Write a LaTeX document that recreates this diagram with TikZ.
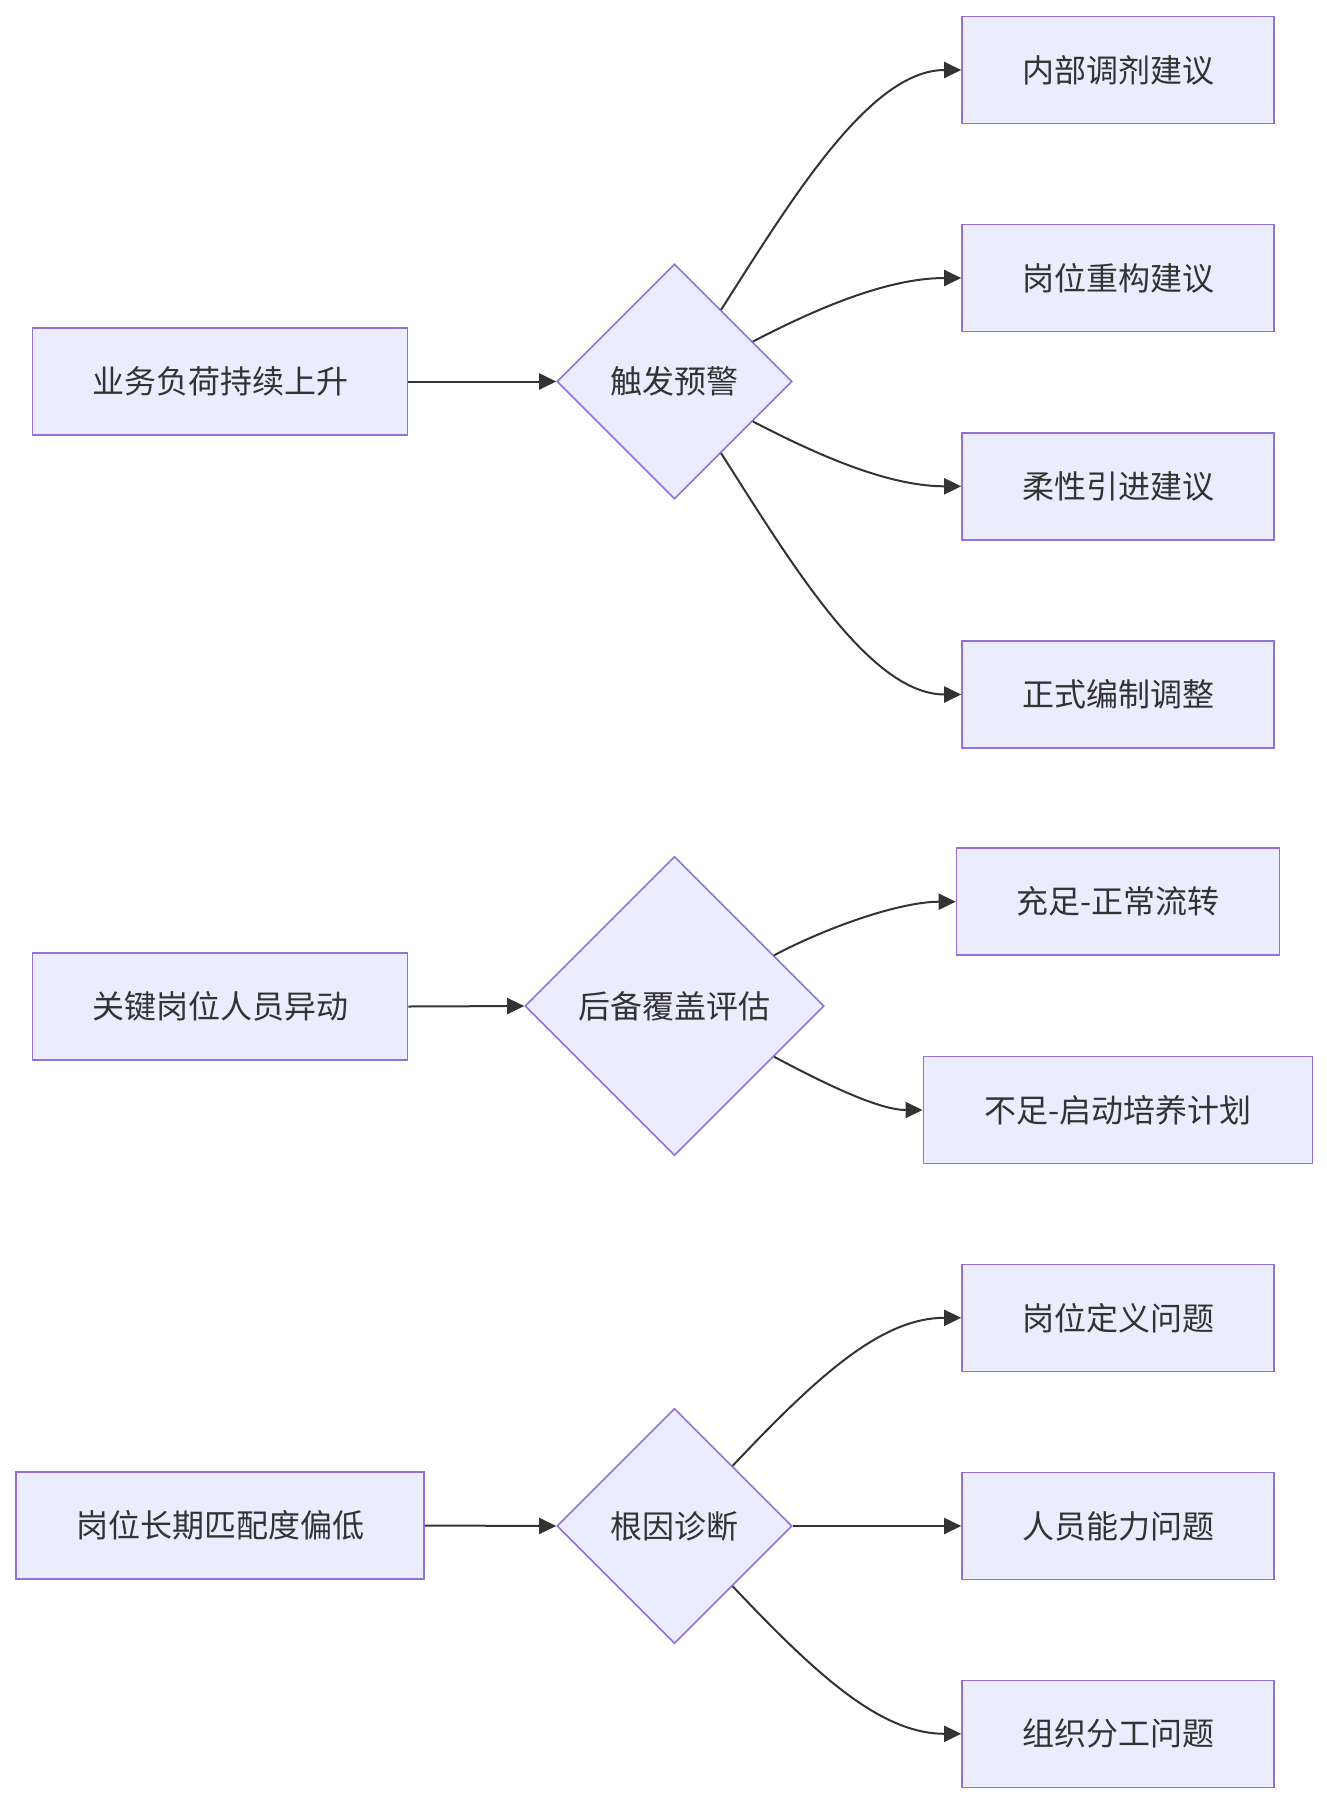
\documentclass[tikz,border=0pt]{standalone}
\usepackage{fontspec}
\setmainfont{Noto Sans CJK SC}
\usetikzlibrary{shapes.geometric,arrows.meta}
\definecolor{boxfill}{HTML}{ECECFF}
\definecolor{boxline}{HTML}{9370DB}
\definecolor{ink}{HTML}{333333}
\tikzset{
  base/.style={draw=boxline, fill=boxfill, line width=1.6pt, text=ink,
    font=\fontsize{32}{38}\selectfont, inner sep=0pt},
  box/.style={base, rectangle, minimum height=107pt, minimum width=#1},
  box/.default=312pt,
  dia/.style={base, diamond, minimum width=#1, minimum height=#1, aspect=1},
  conn/.style={draw=ink, line width=2pt, -{Triangle[length=17pt,width=16pt]}}
}
\begin{document}
\begin{tikzpicture}[x=1pt,y=-1pt]
\useasboundingbox (0,0) rectangle (1327,1804);
% group 1
\node[box=375pt] (a) at (220,381.5) {业务负荷持续上升};
\node[dia=235pt] (d1) at (674.5,381.5) {触发预警};
\node[box] (r1) at (1118,70) {内部调剂建议};
\node[box] (r2) at (1118,278) {岗位重构建议};
\node[box] (r3) at (1118,486.3) {柔性引进建议};
\node[box] (r4) at (1118,694.5) {正式编制调整};
% group 2
\node[box=375pt] (b) at (220,1006.5) {关键岗位人员异动};
\node[dia=299pt] (d2) at (674.5,1006) {后备覆盖评估};
\node[box=323pt] (s1) at (1118,901.7) {充足-正常流转};
\node[box=389pt] (s2) at (1117.8,1110) {不足-启动培养计划};
% group 3
\node[box=408pt] (c) at (220,1525.5) {岗位长期匹配度偏低};
\node[dia=235pt] (d3) at (674.5,1526) {根因诊断};
\node[box] (t1) at (1118,1317.8) {岗位定义问题};
\node[box] (t2) at (1118,1526) {人员能力问题};
\node[box] (t3) at (1118,1733.8) {组织分工问题};
% connectors
\draw[conn] (a.east) -- (d1.west);
\draw[conn] (d1.57.6) .. controls +(69,-108) and +(-92,0) .. (r1.west);
\draw[conn] (d1.27.6) .. controls +(71,-37) and +(-70,0) .. (r2.west);
\draw[conn] (d1.-27.6) .. controls +(71,37) and +(-70,0) .. (r3.west);
\draw[conn] (d1.-57.6) .. controls +(69,108) and +(-92,0) .. (r4.west);
\draw[conn] (b.east) -- (d2.west);
\draw[conn] (d2.27.7) .. controls +(55,-29) and +(-55,0) .. (s1.west);
\draw[conn] (d2.-27.7) .. controls +(45,24) and +(-45,0) .. (s2.west);
\draw[conn] (c.east) -- (d3.west);
\draw[conn] (d3.46.7) .. controls +(85,-90) and +(-80,0) .. (t1.west);
\draw[conn] (d3.east) -- (t2.west);
\draw[conn] (d3.-46.7) .. controls +(85,90) and +(-80,0) .. (t3.west);
\end{tikzpicture}
\end{document}
